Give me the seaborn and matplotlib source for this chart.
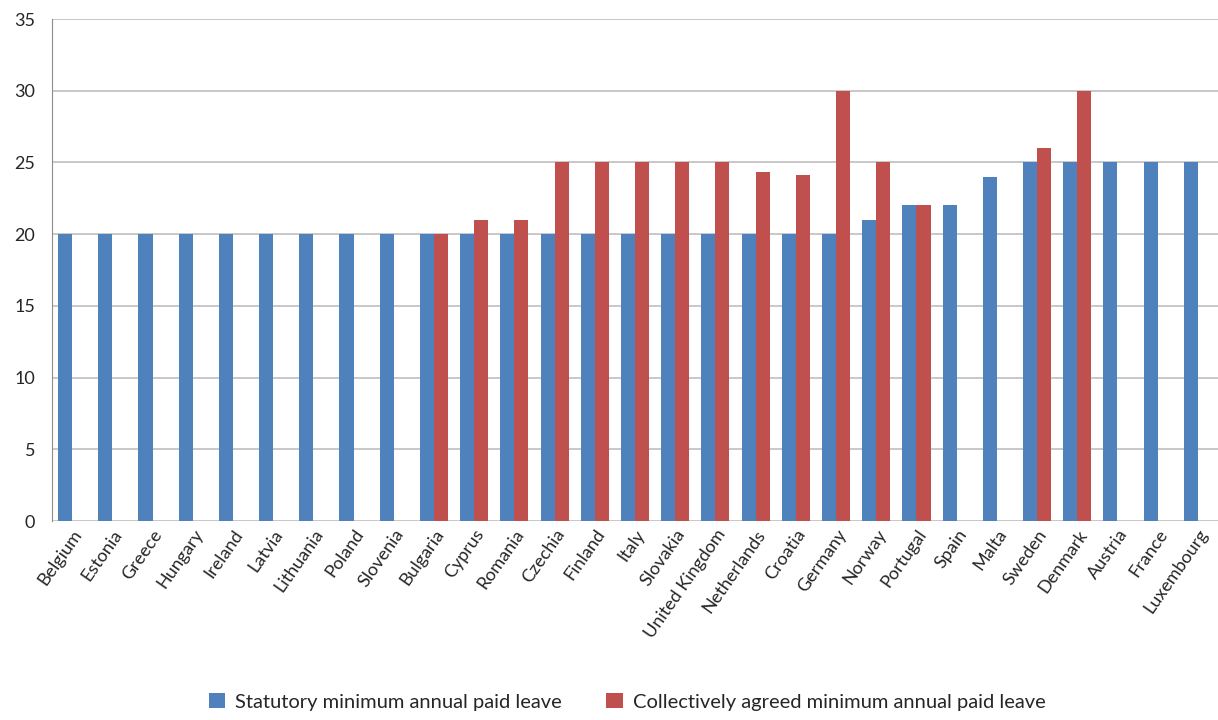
import numpy as np
import pandas as pd
import seaborn as sns
import matplotlib.pyplot as plt

countries = ["Belgium", "Estonia", "Greece", "Hungary", "Ireland", "Latvia", "Lithuania",
             "Poland", "Slovenia", "Bulgaria", "Cyprus", "Romania", "Czechia", "Finland",
             "Italy", "Slovakia", "United Kingdom", "Netherlands", "Croatia", "Germany",
             "Norway", "Portugal", "Spain", "Malta", "Sweden", "Denmark", "Austria",
             "France", "Luxembourg"]
statutory = [20, 20, 20, 20, 20, 20, 20, 20, 20, 20, 20, 20, 20, 20, 20, 20, 20, 20, 20, 20,
             21, 22, 22, 24, 25, 25, 25, 25, 25]
collective = [np.nan] * 9 + [20, 21, 21, 25, 25, 25, 25, 25, 24.3, 24.1, 30, 25, 22,
                             np.nan, np.nan, 26, 30, np.nan, np.nan, np.nan]

s1 = "Statutory minimum annual paid leave"
s2 = "Collectively agreed minimum annual paid leave"

df = pd.DataFrame({
    "country": countries * 2,
    "days": statutory + collective,
    "series": [s1] * len(countries) + [s2] * len(countries),
})

sns.set_style("white")
plt.rcParams['font.family'] = ['Lato', 'DejaVu Sans']

fig = plt.figure(figsize=(12.18, 7.2), dpi=100)
ax = fig.add_axes([52 / 1218, 1 - 521 / 720, 1 - 52 / 1218, (521 - 19) / 720])

sns.barplot(data=df, x="country", y="days", hue="series", order=countries,
            hue_order=[s1, s2], palette=["#4F81BD", "#C0504D"], width=0.7,
            saturation=1, linewidth=0, ax=ax, legend=True)

ax.set_ylim(0, 35)
ax.set_xlim(-0.5, len(countries) - 0.5)
ax.set_yticks(range(0, 36, 5))
ax.yaxis.grid(True, color="#BFBFBF", linewidth=1.2)
ax.set_axisbelow(True)
for side in ["top", "right", "bottom"]:
    ax.spines[side].set_visible(False)
ax.spines["left"].set_color("#8C8C8C")
ax.tick_params(axis="y", length=8, color="#BFBFBF", width=1.2, labelsize=13, pad=4)
ax.tick_params(axis="x", length=0, labelsize=13, pad=4)
ax.set_xticks(range(len(countries)))
ax.set_xticklabels(countries, rotation=55, ha="right", rotation_mode="anchor")
ax.set_xlabel("")
ax.set_ylabel("")

handles, labels = ax.get_legend_handles_labels()
ax.legend_.remove()
fig.legend(handles, labels, loc="lower center", bbox_to_anchor=(0.515, -0.012), ncol=2,
           frameon=False, fontsize=14.5, handlelength=0.8, handleheight=0.8,
           columnspacing=2.2, handletextpad=0.5)

fig.savefig("out.png", dpi=100)
